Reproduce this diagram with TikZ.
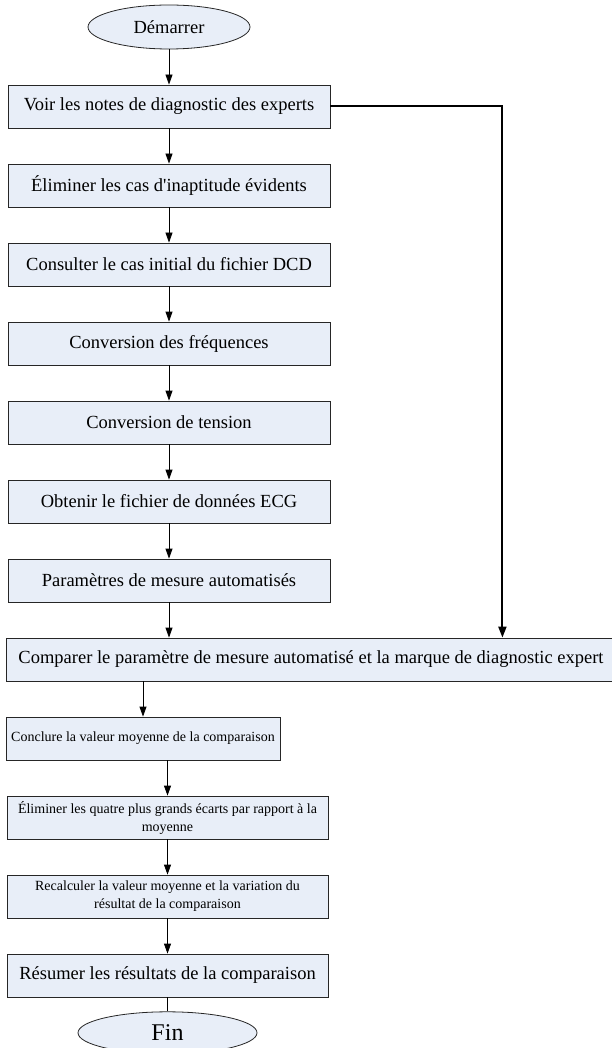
\documentclass[tikz,border=0pt]{standalone}
\usepackage{fontspec}
\setmainfont{Liberation Serif}[Ligatures=TeXOff]
\usetikzlibrary{arrows.meta,positioning,shapes.geometric}
\definecolor{boxfill}{HTML}{E8EEF8}
\begin{document}
\begin{tikzpicture}[
  node distance=35.2pt,
  stepbox/.style={draw=black!85, fill=boxfill, line width=0.8pt, minimum width=322pt, minimum height=43pt, inner sep=2pt, align=center, font=\fontsize{18.5}{22}\selectfont},
  smallbox/.style={stepbox, font=\fontsize{14}{18}\selectfont},
  endpoint/.style={ellipse, draw=black!85, fill=boxfill, line width=0.8pt, inner sep=0pt, align=center},
  arrow/.style={-{Triangle[length=10pt,width=7pt]}, draw=black, line width=0.8pt},
  link/.style={draw=black, line width=0.8pt},
  bigarrow/.style={-{Triangle[length=11pt,width=8pt]}, draw=black, line width=2pt},
]
\useasboundingbox (0pt,0pt) rectangle (612pt,-1048pt);
\node[endpoint, minimum width=162pt, minimum height=44pt, font=\fontsize{18.5}{22}\selectfont] (start) at (169pt,-27pt) {Démarrer};
\node[stepbox, below=35.2pt of start] (notes) {Voir les notes de diagnostic des experts};
\node[stepbox, below=of notes] (inapt) {Éliminer les cas d'inaptitude évidents};
\node[stepbox, below=of inapt] (dcd) {Consulter le cas initial du fichier DCD};
\node[stepbox, below=of dcd] (freq) {Conversion des fréquences};
\node[stepbox, below=of freq] (tens) {Conversion de tension};
\node[stepbox, below=of tens] (ecg) {Obtenir le fichier de données ECG};
\node[stepbox, below=of ecg] (param) {Paramètres de mesure automatisés};
\node[stepbox, minimum width=610pt, below=of param.south west, anchor=north west, xshift=-2pt] (cmp) {Comparer le paramètre de mesure automatisé et la marque de diagnostic expert};
\node[smallbox, minimum width=274pt, below=of cmp.south west, anchor=north west] (mean) {Conclure la valeur moyenne de la comparaison};
\node[smallbox, minimum width=321pt, below=of mean.south west, anchor=north west, xshift=1pt] (outl) {Éliminer les quatre plus grands écarts par rapport à la\\moyenne};
\node[smallbox, minimum width=321pt, below=of outl] (recalc) {Recalculer la valeur moyenne et la variation du\\résultat de la comparaison};
\node[stepbox, minimum width=321pt, below=of recalc] (summ) {Résumer les résultats de la comparaison};
\node[endpoint, minimum width=179pt, minimum height=42pt, font=\fontsize{24}{28}\selectfont, below=14pt of summ] (fin) {Fin};
\draw[arrow] (start) -- (notes);
\draw[arrow] (notes) -- (inapt);
\draw[arrow] (inapt) -- (dcd);
\draw[arrow] (dcd) -- (freq);
\draw[arrow] (freq) -- (tens);
\draw[arrow] (tens) -- (ecg);
\draw[arrow] (ecg) -- (param);
\draw[arrow] (param.south) -- (param.south |- cmp.north);
\draw[arrow] (mean.north |- cmp.south) -- (mean.north);
\draw[arrow] (outl.north |- mean.south) -- (outl.north);
\draw[arrow] (outl) -- (recalc);
\draw[arrow] (recalc) -- (summ);
\draw[link] (summ) -- (fin);
\draw[bigarrow] (notes.east) -- ++(172pt,0) coordinate (turn) -- (turn |- cmp.north);
\end{tikzpicture}
\end{document}
